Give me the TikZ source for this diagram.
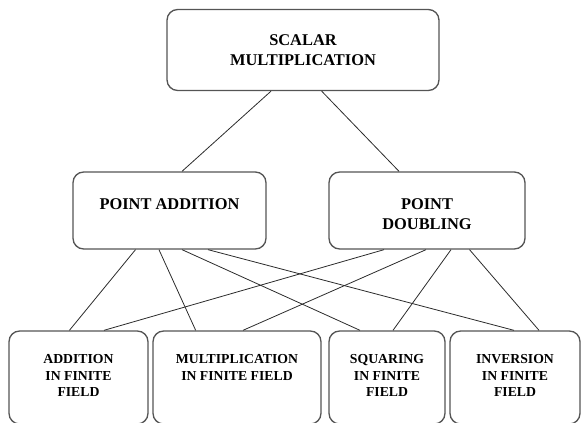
\documentclass[tikz,border=0pt]{standalone}
\usepackage{fontspec}
\setmainfont{Liberation Serif}
\definecolor{ink}{HTML}{2B2B2B}
\definecolor{rim}{HTML}{555555}
\newcommand{\lowdepth}{\rule[-3pt]{0pt}{0pt}}
\tikzset{
  blockbox/.style={draw=rim,line width=1pt,rounded corners=8pt,
                   align=center,inner sep=0pt,
                   font=\bfseries\fontsize{12.3}{14.5}\selectfont},
  leafbox/.style={blockbox,minimum height=69.75pt,
                  font=\bfseries\fontsize{10.3}{12.4}\selectfont},
  wire/.style={draw=ink,line width=0.6pt}
}

\begin{document}
\begin{tikzpicture}[x=0.75pt,y=-0.75pt]
    \useasboundingbox (0,0) rectangle (582,423);
    \node[blockbox,minimum width=204pt,minimum height=60.75pt] (sm) at (303,50)
      {SCALAR\\MULTIPLICATION};
    \node[blockbox,minimum width=144.75pt,minimum height=57.75pt] (pa) at (169.5,210.5)
      {\rule{0pt}{13.5pt}POINT ADDITION\\\phantom{D}};
    \node[blockbox,minimum width=147pt,minimum height=57.75pt] (pd) at (427,210.5)
      {\rule{0pt}{13.5pt}POINT\\DOUBLING};
    \node[leafbox,minimum width=104.25pt] (fadd) at (78.5,377.5) {ADDITION\\IN FINITE\\FIELD\lowdepth};
    \node[leafbox,minimum width=126pt] (fmul) at (237,377.5) {MULTIPLICATION\\IN FINITE FIELD\\\phantom{F}\lowdepth};
    \node[leafbox,minimum width=87pt] (fsqr) at (387,377.5) {SQUARING\\IN FINITE\\FIELD\lowdepth};
    \node[leafbox,minimum width=97.5pt] (finv) at (515,377.5) {INVERSION\\IN FINITE\\FIELD\lowdepth};
    % top level splits into the two point operations
    \draw[wire] ([xshift=-24pt]sm.south) -- ([xshift=9.4pt]pa.north);
    \draw[wire] ([xshift=14pt]sm.south) -- ([xshift=-21pt]pd.north);
    % each point operation uses all four field operations
    \foreach \s/\t/\u in {-25.5/fadd/-6.8, -7.9/fmul/-31, 9.4/fsqr/-20.25, 28.9/finv/-0.75}{
      \draw[wire] ([xshift=\s pt]pa.south) -- ([xshift=\u pt]\t.north);
    }
    \foreach \s/\t/\u in {-32.25/fadd/19.1, -0.75/fmul/4.5, 18/fsqr/4.5, 31.9/finv/18}{
      \draw[wire] ([xshift=\s pt]pd.south) -- ([xshift=\u pt]\t.north);
    }
\end{tikzpicture}
\end{document}
